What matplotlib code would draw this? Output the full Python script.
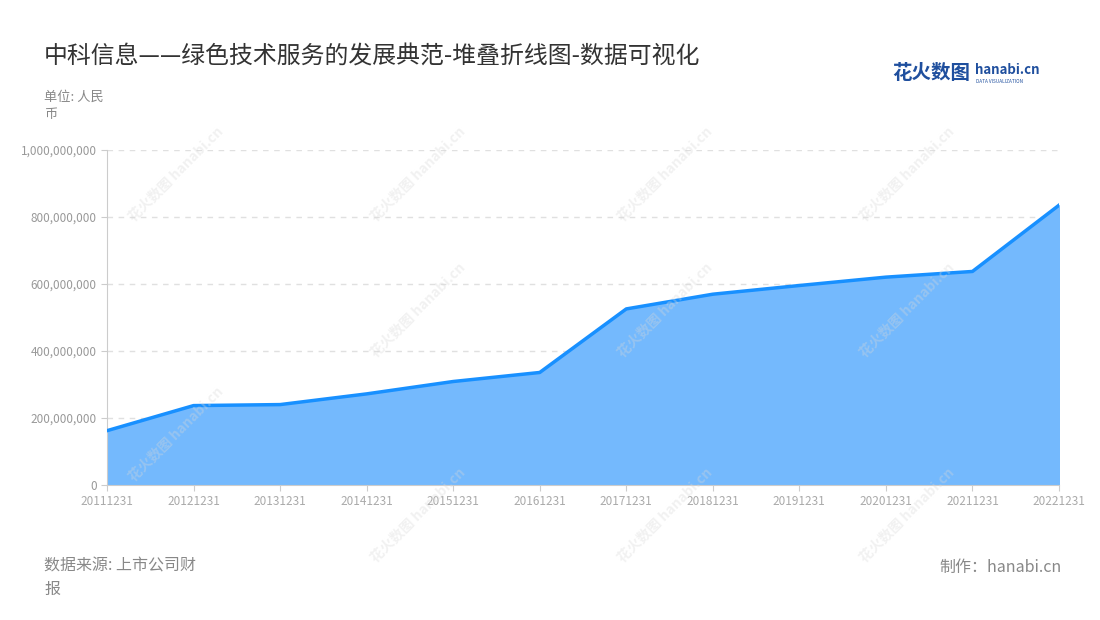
import matplotlib
matplotlib.use('Agg')
import matplotlib.pyplot as plt
from matplotlib.ticker import FuncFormatter

plt.rcParams['font.family'] = ['Noto Sans CJK SC', 'DejaVu Sans']

# data (unit: RMB)
years = ['20111231', '20121231', '20131231', '20141231', '20151231', '20161231',
         '20171231', '20181231', '20191231', '20201231', '20211231', '20221231']
revenue = [161e6, 236e6, 239e6, 271e6, 308e6, 335e6,
           525e6, 569e6, 595e6, 620e6, 637e6, 835e6]
yticks = [0, 200e6, 400e6, 600e6, 800e6, 1000e6]

fig = plt.figure(figsize=(11, 6.2), dpi=100)
ax = fig.add_axes([0.0973, 0.2185, 0.8654, 0.5395])

x = list(range(len(years)))
ax.fill_between(x, revenue, 0, color='#74b9fd', zorder=2)
ax.plot(x, revenue, color='#1890ff', lw=2.5, zorder=3, solid_joinstyle='round')

ax.set_xlim(0, len(years) - 1)
ax.set_ylim(0, 1e9)
ax.set_yticks(yticks)
ax.yaxis.set_major_formatter(FuncFormatter(lambda v, p: '{:,.0f}'.format(v)))
ax.set_xticks(x)
ax.set_xticklabels(years)
ax.grid(axis='y', color='#e0e0e0', linestyle=(0, (4, 4)), lw=1)
ax.set_axisbelow(True)
for s in ['top', 'right']:
    ax.spines[s].set_visible(False)
ax.spines['left'].set_color('#cccccc')
ax.spines['bottom'].set_color('#cccccc')
ax.tick_params(axis='y', colors='#cccccc', labelcolor='#999999', labelsize=8.5, length=4)
ax.tick_params(axis='x', colors='#cccccc', labelcolor='#aaaaaa', labelsize=8.5, length=4)

# faint watermarks
wm = [(0.16, 0.72), (0.38, 0.72), (0.605, 0.72), (0.825, 0.72),
      (0.38, 0.50), (0.605, 0.50), (0.825, 0.50),
      (0.16, 0.30), (0.38, 0.17), (0.605, 0.17), (0.825, 0.17)]
for wx, wy in wm:
    fig.text(wx, wy, '花火数图 hanabi.cn', rotation=45, color='#d8d8d8', fontsize=10,
             fontweight='bold', ha='center', va='center', alpha=0.35, zorder=5)

fig.text(0.04, 0.908, '中科信息——绿色技术服务的发展典范-堆叠折线图-数据可视化',
         fontsize=17.2, color='#333333', va='center')
fig.text(0.04, 0.853, '单位: 人民\n币', fontsize=9.5, color='#888888', va='top', linespacing=1.35)
fig.text(0.04, 0.068, '数据来源: 上市公司财\n报', fontsize=11.5, color='#888888', va='center',
         linespacing=1.45)
fig.text(0.965, 0.085, '制作：hanabi.cn', fontsize=11.5, color='#888888', ha='right', va='center')

# logo
fig.text(0.811, 0.882, '花火数图', fontsize=14, color='#1f4f9e', fontweight='bold', va='center')
fig.text(0.886, 0.887, 'hanabi.cn', fontsize=9.5, color='#1f4f9e', fontweight='bold', va='center')
fig.text(0.887, 0.869, 'DATA VISUALIZATION', fontsize=3.4, color='#1f4f9e', va='center')

fig.savefig('out.png', dpi=100)
